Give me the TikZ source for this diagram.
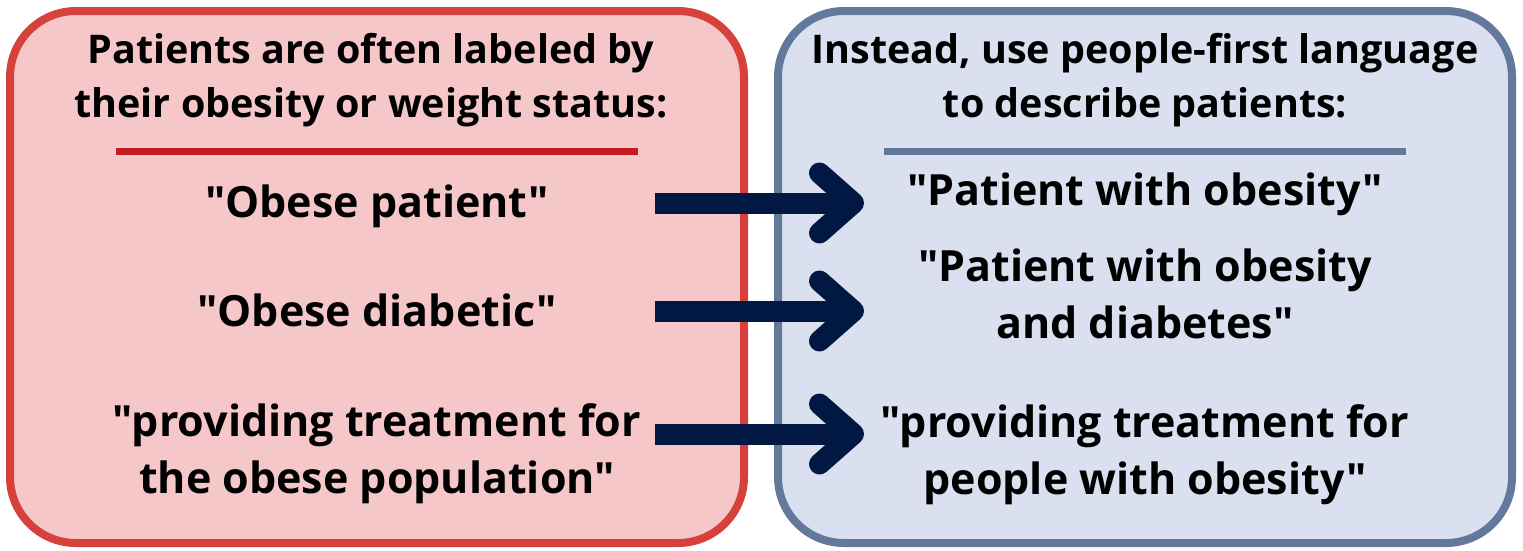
\documentclass[tikz,border=0pt]{standalone}
\usepackage{fontspec}
\setmainfont{Open Sans}[Ligatures=TeXOff]
\usetikzlibrary{arrows.meta}
\definecolor{labelfill}{HTML}{F5C7C9}
\definecolor{labeldraw}{HTML}{D6423B}
\definecolor{labelrule}{HTML}{C41B23}
\definecolor{firstfill}{HTML}{DAE0F0}
\definecolor{firstdraw}{HTML}{63799B}
\definecolor{arrownavy}{HTML}{011843}
\tikzset{
  panel/.style={line width=8pt,rounded corners=66pt},
  headtext/.style={inner sep=0pt,align=center,anchor=base,
    font=\bfseries\fontsize{39.5}{54}\selectfont},
  itemtext/.style={inner sep=0pt,align=center,anchor=base,
    font=\bfseries\fontsize{43}{57}\selectfont},
  swap/.style={draw=arrownavy,line width=21pt,
    -{Straight Barb[length=34pt,width=60pt,round]}}
}
\begin{document}
\begin{tikzpicture}[x=1pt,y=-1pt]
\useasboundingbox (0,0) rectangle (1523,550);
\def\LeftX{377}
\def\RightX{1145}
\path[panel,draw=labeldraw,fill=labelfill]
  (10,11) rectangle (744,543);
\path[panel,draw=firstdraw,fill=firstfill]
  (778,11) rectangle (1512,543);
\draw[labelrule,line width=7pt] (116,151) -- (638,151);
\draw[firstdraw,line width=7pt] (884,151) -- (1406,151);
% multi-line nodes sit on the baseline of their last line
\node[headtext] (lhead) at (371,117)
  {Patients are often labeled by\\their obesity or weight status:};
\node[headtext] (rhead) at (\RightX,117)
  {Instead, use people-first language\\to describe patients:};
\node[itemtext] (l1) at (\LeftX,217) {"Obese patient"};
\node[itemtext] (l2) at (\LeftX,326) {"Obese diabetic"};
\node[itemtext] (l3) at (\LeftX,493)
  {"providing treatment for\\the obese population"};
\node[itemtext] (r1) at (\RightX,205) {"Patient with obesity"};
\node[itemtext] (r2) at (\RightX,338)
  {"Patient with obesity\\and diabetes"};
\node[itemtext] (r3) at (\RightX,494)
  {"providing treatment for\\people with obesity"};
\foreach \i/\y in {1/203,2/311,3/434} {
  \coordinate (tail\i) at (655,\y);
  \coordinate (tip\i) at (864,\y);
  \draw[swap] (tail\i) -- (tip\i);
}
\end{tikzpicture}
\end{document}
